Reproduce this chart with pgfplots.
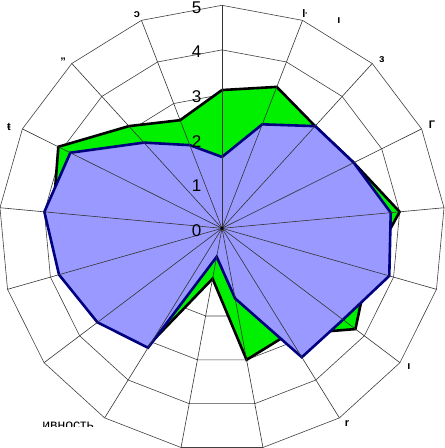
\documentclass[border=0pt]{standalone}
\usepackage{pgfplots}
\pgfplotsset{compat=1.18}
\usepackage{pgfplotstable}
\usepackage{fontspec}
\setmainfont{Liberation Sans}

\definecolor{fillgreen}{RGB}{0,240,0}
\definecolor{fillblue}{RGB}{153,153,255}
\definecolor{edgeblue}{RGB}{0,0,128}

% 17 spokes, clockwise from the top; last row closes the polygon
\pgfplotstableread{
a         green  blue
90        3.1    1.6
68.8235   3.4    2.5
47.6471   3.1    3.1
26.4706   3.3    3.3
5.2941    4.0    3.8
-15.8824  3.4    3.9
-37.0588  3.75   3.4
-58.2353  2.8    3.4
-79.4118  3.0    1.6
-100.5882 1.15   0.65
-121.7647 3.0    3.15
-142.9412 3.3    3.5
-164.1176 3.6    3.8
174.7059  3.8    4.0
153.5294  4.1    3.8
132.3529  3.1    2.6
111.1765  2.6    2.0
90        3.1    1.6
}\radar

\begin{document}
\begin{tikzpicture}
\begin{axis}[
    hide axis, scale only axis,
    width=444pt, height=448pt,
    xmin=-4.978, xmax=4.978, ymin=-4.926, ymax=5.119,
    clip=false,
]
% polygon rings
\pgfplotsinvokeforeach{1,2,3,4,5}{
  \addplot[data cs=polar, draw=black!75, line width=0.6pt] table[x=a, y expr=#1] {\radar};
}
% series
\addplot[data cs=polar, fill=fillgreen, draw=black, line width=2.6pt] table[x=a, y=green] {\radar};
\addplot[data cs=polar, fill=fillblue, draw=edgeblue, line width=2.6pt] table[x=a, y=blue] {\radar};
% spokes
\pgfplotsinvokeforeach{90,68.8235,47.6471,26.4706,5.2941,-15.8824,-37.0588,-58.2353,-79.4118,-100.5882,-121.7647,-142.9412,-164.1176,174.7059,153.5294,132.3529,111.1765}{
  \addplot[data cs=polar, draw=black!80, line width=0.6pt] coordinates {(#1,0) (#1,5)};
}
\addplot[only marks, mark=*, mark size=1.4pt, black] coordinates {(0,0)};
% radial scale
\pgfplotsinvokeforeach{0,1,2,3,4,5}{
  \node[font=\fontsize{17}{17}\selectfont] at (axis cs:-0.57,#1-0.045) {#1};
}
% what shows of the category labels
\node[anchor=base, font=\fontsize{14}{14}\selectfont] at (axis cs:-3.45,-4.5) {ивность};
\fill[white] (axis cs:-4.5,-4.465) rectangle (axis cs:-2.51,-5);
\tikzset{frag/.style={font=\fontsize{11}{11}\selectfont\bfseries}}
\node[frag] at (axis cs:-1.906,4.782) {ɔ};
\node[frag] at (axis cs:1.861,4.805) {ŀ};
\node[frag] at (axis cs:2.623,4.648) {ı};
\node[frag] at (axis cs:3.587,3.774) {ɜ};
\node[frag] at (axis cs:4.709,2.316) {Г};
\node[frag] at (axis cs:-4.776,2.271) {ŧ};
\node[frag] at (axis cs:-3.565,3.729) {"};
\node[frag] at (axis cs:4.193,-3.110) {ı};
\node[frag] at (axis cs:2.803,-4.388) {r};
\end{axis}
\pgfresetboundingbox
\path (current axis.south west) rectangle (current axis.north east);
\end{tikzpicture}
\end{document}
